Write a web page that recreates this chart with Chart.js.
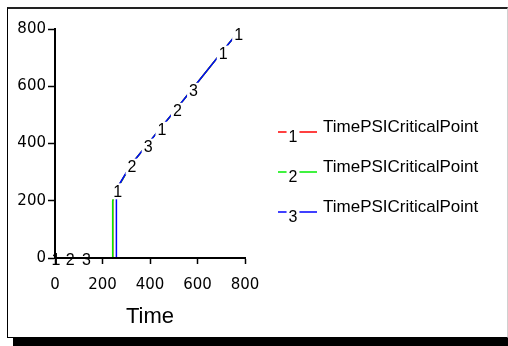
<!DOCTYPE html>
<html>
<head>
<meta charset="utf-8">
<script src="https://cdn.jsdelivr.net/npm/chart.js@4/dist/chart.umd.min.js"></script>
<style>
  html, body { margin: 0; padding: 0; background: #fff; overflow: hidden; }
  #frame {
    position: absolute; left: 7px; top: 7px;
    width: 499px; height: 328px;
    border: 1px solid #000; border-top: 2px solid #222; border-right-color: #d0d0d0;
    box-shadow: 6px 8px 0 #000;
    background: #fff;
  }
  #wrap { position: absolute; left: 0; top: 0; width: 508px; height: 346px; }
</style>
</head>
<body>
<div id="frame"></div>
<div id="wrap"><canvas id="chart"></canvas></div>
<script>
(function(){
  // series labels and colours
  const seriesNames = ["TimePSICriticalPoint", "TimePSICriticalPoint", "TimePSICriticalPoint"];
  const seriesColors = ["#ff0000", "#00ee00", "#0000ff"];

  // series 1
  const time1 = [0, 243, 243, 260, 320, 388, 446, 511, 579, 704, 769];
  const psi1  = [0, 0, 200, 240, 326, 396, 455, 521, 591, 721, 787];
  const mark1 = [0, 260, 446, 704, 769];

  // series 2
  const time2 = [0, 60, 243, 243, 260, 320, 388, 446, 511, 579, 704, 769];
  const psi2  = [0, 0, 0, 200, 240, 326, 396, 455, 521, 591, 721, 787];
  const mark2 = [60, 320, 511];

  // series 3
  const time3 = [0, 128, 257, 257, 260, 320, 388, 446, 511, 579, 704, 769];
  const psi3  = [0, 0, 0, 200, 240, 326, 396, 455, 521, 591, 721, 787];
  const mark3 = [128, 388, 579];

  const xTicks = [0, 200, 400, 600, 800];
  const yTicks = [0, 200, 400, 600, 800];

  const series = [
    { t: time1, v: psi1, m: mark1 },
    { t: time2, v: psi2, m: mark2 },
    { t: time3, v: psi3, m: mark3 }
  ];

  const markFont = "16px 'Liberation Sans', Arial, sans-serif";

  function drawMark(ctx, digit, x, y) {
    ctx.font = markFont;
    ctx.textAlign = "center";
    ctx.textBaseline = "middle";
    const w = ctx.measureText(digit).width;
    ctx.fillStyle = "#fff";
    ctx.fillRect(x - w / 2 - 2, y - 8, w + 4, 16);
    ctx.fillStyle = "#000";
    ctx.fillText(digit, x, y + 1);
  }

  // number markers drawn on top of every line
  const markerPlugin = {
    id: "numberMarkers",
    afterDatasetsDraw(chart) {
      const ctx = chart.ctx;
      ctx.save();
      series.forEach((s, i) => {
        const meta = chart.getDatasetMeta(i);
        s.t.forEach((t, j) => {
          if (!s.m.includes(t)) return;
          const pt = meta.data[j];
          drawMark(ctx, String(i + 1), pt.x + 1, pt.y + 2);
        });
      });
      ctx.restore();
    }
  };

  // legend: coloured line with series number, then name
  const legendPlugin = {
    id: "numberLegend",
    afterDraw(chart) {
      const ctx = chart.ctx;
      const x0 = chart.chartArea.right + 33;
      const mid = chart.height / 2;
      ctx.save();
      seriesNames.forEach((name, i) => {
        const ty = mid - 46 + i * 40;
        const ly = ty + 5;
        ctx.strokeStyle = seriesColors[i];
        ctx.lineWidth = 1.5;
        ctx.beginPath();
        ctx.moveTo(x0, ly);
        ctx.lineTo(x0 + 39, ly);
        ctx.stroke();
        drawMark(ctx, String(i + 1), x0 + 15, ly + 5);
        ctx.fillStyle = "#000";
        ctx.font = "17px 'Liberation Sans', Arial, sans-serif";
        ctx.textAlign = "left";
        ctx.textBaseline = "middle";
        ctx.fillText(name, x0 + 45, ty);
      });
      ctx.restore();
    }
  };

  const datasets = series.map((s, i) => ({
    label: seriesNames[i],
    data: s.t.map((t, j) => ({ x: t, y: s.v[j] })),
    borderColor: seriesColors[i],
    backgroundColor: seriesColors[i],
    borderWidth: 1.5,
    pointRadius: 0,
    tension: 0,
    fill: false,
    order: 3 - i
  }));

  const axisFont = { family: "'DejaVu Sans', sans-serif", size: 15 };

  new Chart(document.getElementById("chart"), {
    type: "line",
    data: { datasets: datasets },
    options: {
      responsive: true,
      maintainAspectRatio: false,
      animation: false,
      layout: { padding: { left: 0, top: 29, right: 263, bottom: 0 } },
      plugins: {
        legend: { display: false },
        tooltip: { enabled: false }
      },
      scales: {
        x: {
          type: "linear",
          min: 0,
          max: 800,
          afterBuildTicks: (scale) => { scale.ticks = xTicks.map(v => ({ value: v })); },
          afterFit: (scale) => { scale.height = 88; },
          ticks: { color: "#000", font: axisFont, padding: 12, maxRotation: 0, z: 1 },
          grid: { display: true, drawOnChartArea: false, tickLength: 6, tickColor: "#000", tickWidth: 1.5, z: 1 },
          border: { display: true, color: "#000", width: 2, z: 1 },
          title: {
            display: true,
            text: "Time",
            color: "#000",
            font: { family: "'Liberation Sans', Arial, sans-serif", size: 22 },
            padding: { top: 0, bottom: 16 }
          }
        },
        y: {
          type: "linear",
          min: 0,
          max: 800,
          afterBuildTicks: (scale) => { scale.ticks = yTicks.map(v => ({ value: v })); },
          afterFit: (scale) => { scale.width = 55; },
          ticks: { color: "#000", font: axisFont, padding: 2, z: 1 },
          grid: { display: true, drawOnChartArea: false, tickLength: 7, tickColor: "#000", tickWidth: 1.5, z: 1 },
          border: { display: true, color: "#000", width: 2, z: 1 }
        }
      }
    },
    plugins: [markerPlugin, legendPlugin]
  });
})();
</script>
</body>
</html>
